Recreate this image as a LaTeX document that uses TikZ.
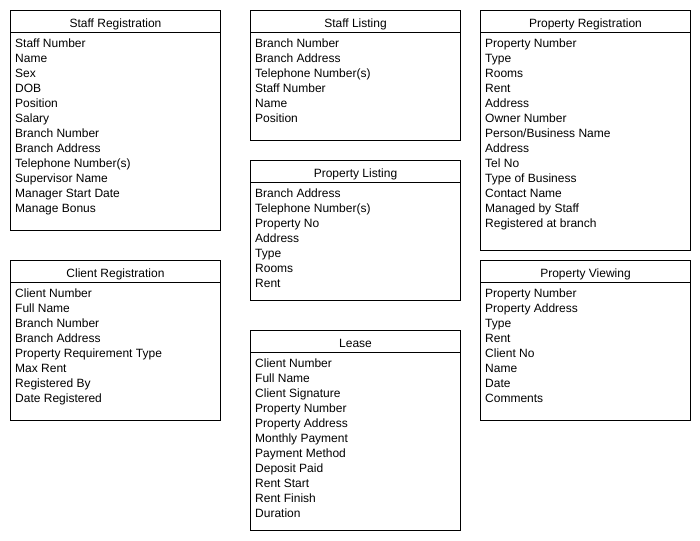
\documentclass[tikz,border=0pt]{standalone}
\usepackage{fontspec}
\setmainfont{Liberation Sans}
\usetikzlibrary{positioning}
\usetikzlibrary{calc}

\tikzset{
	entity/.style={draw, line width=1pt, minimum width=210pt, anchor=north west, inner sep=0pt},
	header/.style={draw, line width=1pt, minimum width=210pt, minimum height=22pt, anchor=north, text height=11.5pt, text depth=0pt, inner sep=0pt},
	fields/.style={anchor=north west, align=left, inner xsep=5pt, inner ysep=5.5pt}
}

\begin{document}
\begin{tikzpicture}[x=1pt, y=-1pt, font=\fontsize{12}{15}\selectfont]
\useasboundingbox (0,0) rectangle (700,540);

% left column
\node[entity, minimum height=220pt] (staffreg) at (10,10) {};
\node[header] (staffregT) at (staffreg.north) {Staff Registration};
\node[fields] (staffregF) at (staffregT.south west) {Staff Number\\Name\\Sex\\DOB\\Position\\Salary\\Branch Number\\Branch Address\\Telephone Number(s)\\Supervisor Name\\Manager Start Date\\Manage Bonus};

\node[entity, minimum height=160pt] (clientreg) at (10,260) {};
\node[header] (clientregT) at (clientreg.north) {Client Registration};
\node[fields] (clientregF) at (clientregT.south west) {Client Number\\Full Name\\Branch Number\\Branch Address\\Property Requirement Type\\Max Rent\\Registered By\\Date Registered};

% middle column
\node[entity, minimum height=130pt] (stafflist) at (250,10) {};
\node[header] (stafflistT) at (stafflist.north) {Staff Listing};
\node[fields] (stafflistF) at (stafflistT.south west) {Branch Number\\Branch Address\\Telephone Number(s)\\Staff Number\\Name\\Position};

\node[entity, minimum height=140pt] (proplist) at (250,160) {};
\node[header] (proplistT) at (proplist.north) {Property Listing};
\node[fields] (proplistF) at (proplistT.south west) {Branch Address\\Telephone Number(s)\\Property No\\Address\\Type\\Rooms\\Rent};

\node[entity, minimum height=200pt] (lease) at (250,330) {};
\node[header] (leaseT) at (lease.north) {Lease};
\node[fields] (leaseF) at (leaseT.south west) {Client Number\\Full Name\\Client Signature\\Property Number\\Property Address\\Monthly Payment\\Payment Method\\Deposit Paid\\Rent Start\\Rent Finish\\Duration};

% right column
\node[entity, minimum height=240pt] (propreg) at (480,10) {};
\node[header] (propregT) at (propreg.north) {Property Registration};
\node[fields] (propregF) at (propregT.south west) {Property Number\\Type\\Rooms\\Rent\\Address\\Owner Number\\Person/Business Name\\Address\\Tel No\\Type of Business\\Contact Name\\Managed by Staff\\Registered at branch};

\node[entity, minimum height=160pt] (propview) at (480,260) {};
\node[header] (propviewT) at (propview.north) {Property Viewing};
\node[fields] (propviewF) at (propviewT.south west) {Property Number\\Property Address\\Type\\Rent\\Client No\\Name\\Date\\Comments};
\end{tikzpicture}
\end{document}
